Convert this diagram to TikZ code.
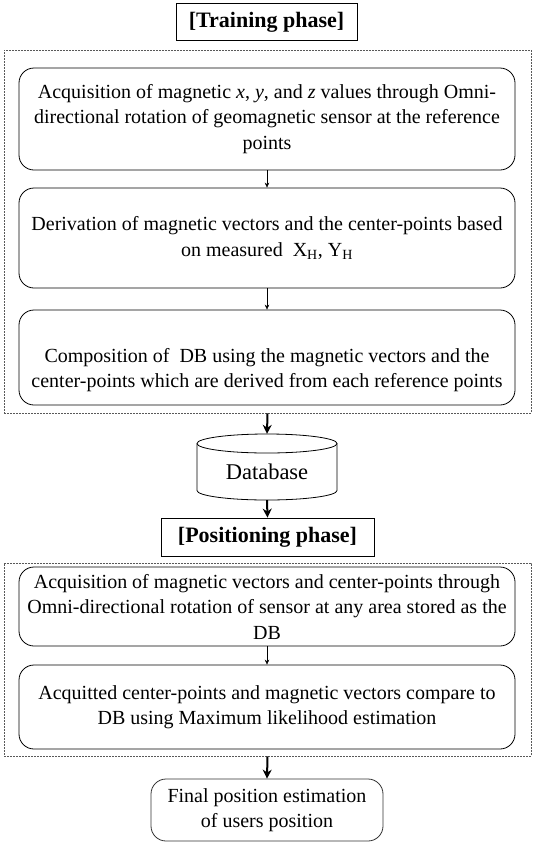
\documentclass[tikz,border=0pt]{standalone}
\usepackage{fontspec}
\setmainfont{Liberation Serif}
\usetikzlibrary{arrows.meta}
\begin{document}
\begin{tikzpicture}[x=1pt,y=-1pt,
  box/.style={draw, rounded corners=15pt, minimum width=496pt, align=center, inner sep=0pt,
    font=\fontsize{20}{25.5}\selectfont, line width=0.8pt},
  plain/.style={align=center, inner sep=0pt, font=\fontsize{20}{25.5}\selectfont},
  phasetitle/.style={draw, font=\fontsize{22}{26}\selectfont\bfseries, inner sep=0pt, line width=0.8pt},
  phase/.style={draw=black!65, dash pattern=on 2pt off 1pt, line width=0.6pt, inner sep=0pt},
  thinarrow/.style={-{Stealth[length=5pt,width=4.5pt]}, line width=0.5pt},
  thickarrow/.style={-{Stealth[length=9pt,width=9pt]}, line width=2pt}]
\useasboundingbox (0,0) rectangle (535,844);
% training phase
\node[phasetitle, minimum width=181pt, minimum height=36.5pt] (t1) at (266.5,22) {[Training phase]};
\node[phase, minimum width=527pt, minimum height=363pt] (tp) at (267.5,231.5) {};
\node[box, minimum height=102pt] (b1) at (267,119)
  {Acquisition of magnetic \textit{x}, \textit{y}, and \textit{z} values through Omni-\\directional rotation of geomagnetic sensor at the reference\\points};
\node[box, minimum height=100pt] (b2) at (267,238)
  {Derivation of magnetic vectors and the center-points based\\on measured~ X\textsubscript{H}, Y\textsubscript{H}};
\node[box, minimum height=95pt] (b3) at (267,357.5) {};
\node[plain] (b3t) at (267,370)
  {Composition of~ DB using the magnetic vectors and the\\center-points which are derived from each reference points};
\draw[thinarrow] (b1) -- (b2);
\draw[thinarrow] (b2) -- (b3);
% database
\node[minimum width=140pt, minimum height=66pt, inner sep=0pt] (db) at (267,467) {};
\node[plain, font=\fontsize{22.5}{26}\selectfont] (dbt) at (267,472) {Database};
\draw[line width=0.8pt] (267,443.5) ellipse [x radius=70pt, y radius=9.5pt];
\draw[line width=0.8pt] (197,443.5) -- (197,490.5) arc [start angle=180, end angle=360, x radius=70pt, y radius=9.5pt] -- (337,443.5);
\draw[thickarrow] (tp.south) -- (db.north);
% positioning phase
\node[phasetitle, minimum width=213pt, minimum height=38pt] (t2) at (267.5,537) {[Positioning phase]};
\draw[thickarrow] (db.south) -- (t2.north);
\node[phase, minimum width=527pt, minimum height=193pt] (pp) at (267.5,659.5) {};
\node[box, minimum height=79pt] (b4) at (267,606.5)
  {Acquisition of magnetic vectors and center-points through\\Omni-directional rotation of sensor at any area stored as the\\DB};
\node[box, minimum height=84pt] (b5) at (267,707)
  {Acquitted center-points and magnetic vectors compare to\\DB using Maximum likelihood estimation};
\draw[thinarrow] (b4) -- (b5);
\node[box, draw=black!80, minimum width=232pt, minimum height=62pt] (b6) at (267,810)
  {Final position estimation\\of users position};
\draw[thickarrow] (pp.south) -- (b6.north);
\end{tikzpicture}
\end{document}
